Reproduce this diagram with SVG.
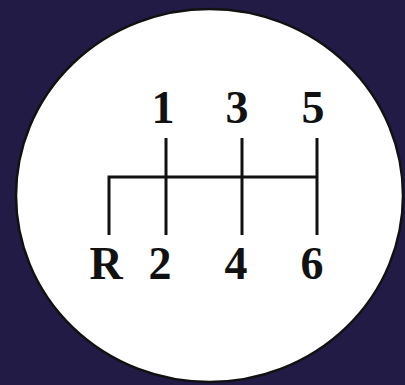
<svg xmlns="http://www.w3.org/2000/svg" width="405" height="385" viewBox="0 0 405 385">
<style>
.lbl{font-family:"Liberation Serif","Times New Roman",serif;font-weight:bold;font-size:46px;fill:#111;text-anchor:middle}
.ln{stroke:#111;stroke-width:3;fill:none}
</style>
<rect width="405" height="385" fill="#221b46"/>
<ellipse id="knob" cx="209.5" cy="195.5" rx="193.5" ry="186.5" fill="#ffffff" stroke="#111" stroke-width="2.5"/>
<g id="connectors">
<path class="ln" d="M109,235 V177 H317"/>
<line class="ln" x1="166" y1="138" x2="166" y2="235"/>
<line class="ln" x1="242" y1="138" x2="242" y2="235"/>
<line class="ln" x1="317" y1="138" x2="317" y2="235"/>
</g>
<g id="g1"><text class="lbl" x="163" y="123">1</text></g>
<g id="g3"><text class="lbl" x="237" y="123">3</text></g>
<g id="g5"><text class="lbl" x="313" y="123">5</text></g>
<g id="gR"><text class="lbl" x="106" y="279">R</text></g>
<g id="g2"><text class="lbl" x="160" y="279">2</text></g>
<g id="g4"><text class="lbl" x="236" y="279">4</text></g>
<g id="g6"><text class="lbl" x="312" y="279">6</text></g>
</svg>
